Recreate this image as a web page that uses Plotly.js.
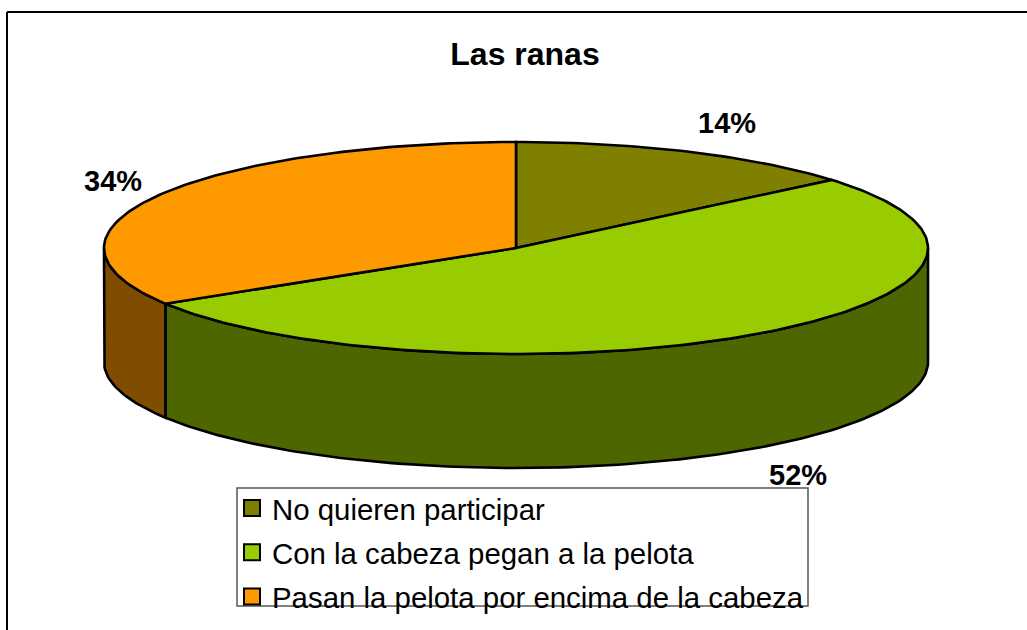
<!DOCTYPE html>
<html>
<head>
<meta charset="utf-8">
<script src="https://cdn.plot.ly/plotly-3.0.1.min.js"></script>
<style>html,body{margin:0;padding:0;background:#fff;overflow:hidden}#chart{width:1027px;height:630px}</style>
</head>
<body>
<div id="chart"></div>
<script>
const categories = ["No quieren participar", "Con la cabeza pegan a la pelota", "Pasan la pelota por encima de la cabeza"];
const values = [13.9, 52.3, 33.8];
const topColors = ["#808000", "#99cc00", "#ff9900"];
const wallColors = ["#4d4d00", "#4d6600", "#804d00"];
const labelPos = [[727, 123], [798, 475], [113, 181]];

const cx = 516, cy = 248, rx = 412, ry = 106, depth = 114;
const total = values.reduce((a, b) => a + b, 0);
const STEP = 1;
function pt(deg, dy) {
  const r = deg * Math.PI / 180;
  return [cx + rx * Math.sin(r), cy - ry * Math.cos(r) + (dy || 0)];
}
function arc(a, b, dy) {
  const out = [];
  const n = Math.max(2, Math.ceil(Math.abs(b - a) / STEP));
  for (let i = 0; i <= n; i++) out.push(pt(a + (b - a) * i / n, dy));
  return out;
}
function poly(points, fill) {
  return {
    type: "scatter", mode: "lines", x: points.map(p => p[0]), y: points.map(p => p[1]),
    fill: "toself", fillcolor: fill, line: {color: "#000", width: 2.6, shape: "linear"},
    hoverinfo: "skip", showlegend: false
  };
}
const traces = [];
let acc = 0;
const slices = values.map(v => { const s = acc; acc += v / total * 360; return [s, acc]; });
slices.forEach((s, i) => {
  const a = Math.max(s[0], 90), b = Math.min(s[1], 270);
  if (b > a) {
    const pts = arc(a, b, 0).concat(arc(b, a, depth));
    pts.push(pts[0]);
    traces.push(poly(pts, wallColors[i]));
  }
});
slices.forEach((s, i) => {
  const pts = [[cx, cy]].concat(arc(s[0], s[1], 0));
  pts.push([cx, cy]);
  traces.push(poly(pts, topColors[i]));
});
categories.forEach((c, i) => {
  traces.push({
    type: "scatter", mode: "markers", x: [null], y: [null], name: c, legendgroup: "g" + i,
    marker: {symbol: "square", size: 16, color: topColors[i], line: {color: "#000", width: 2}},
    hoverinfo: "skip", showlegend: true
  });
});
const FONT = "Liberation Sans, Arial, sans-serif";
const annotations = values.map((v, i) => ({
  x: labelPos[i][0], y: labelPos[i][1], xref: "x", yref: "y", text: "<b>" + Math.round(v) + "%</b>",
  showarrow: false, xanchor: "center", yanchor: "middle",
  font: {family: FONT, size: 29, color: "#000"}
}));
const layout = {
  width: 1027, height: 630, autosize: false,
  margin: {l: 0, r: 0, t: 0, b: 0, pad: 0},
  paper_bgcolor: "#fff", plot_bgcolor: "#fff",
  title: {text: "<b>Las ranas</b>", font: {family: FONT, size: 32, color: "#000"},
          x: 525 / 1027, xanchor: "center", y: 1 - 54 / 630, yanchor: "middle"},
  xaxis: {range: [0, 1027], visible: false, fixedrange: true},
  yaxis: {range: [630, 0], visible: false, fixedrange: true},
  showlegend: true,
  legend: {
    x: 232 / 1027, y: 1 - 482.5 / 630, xanchor: "left", yanchor: "top",
    bgcolor: "rgba(0,0,0,0)", borderwidth: 0,
    traceorder: "grouped", tracegroupgap: 3, itemsizing: "trace", itemclick: false, itemdoubleclick: false,
    font: {family: FONT, size: 29.4, color: "#000"}
  },
  annotations: annotations,
  shapes: [
    {type: "line", xref: "paper", yref: "paper", x0: 7 / 1027, x1: 7 / 1027, y0: 0, y1: 1 - 12 / 630, line: {color: "#000", width: 2}},
    {type: "line", xref: "paper", yref: "paper", x0: 7 / 1027, x1: 1, y0: 1 - 12 / 630, y1: 1 - 12 / 630, line: {color: "#000", width: 2}},
    {type: "rect", xref: "paper", yref: "paper", x0: 237 / 1027, x1: 808 / 1027, y0: 1 - 606 / 630, y1: 1 - 488 / 630, fillcolor: "#fff", line: {color: "#555", width: 1.5}}
  ]
};
Plotly.newPlot("chart", traces, layout, {displayModeBar: false});
</script>
</body>
</html>
